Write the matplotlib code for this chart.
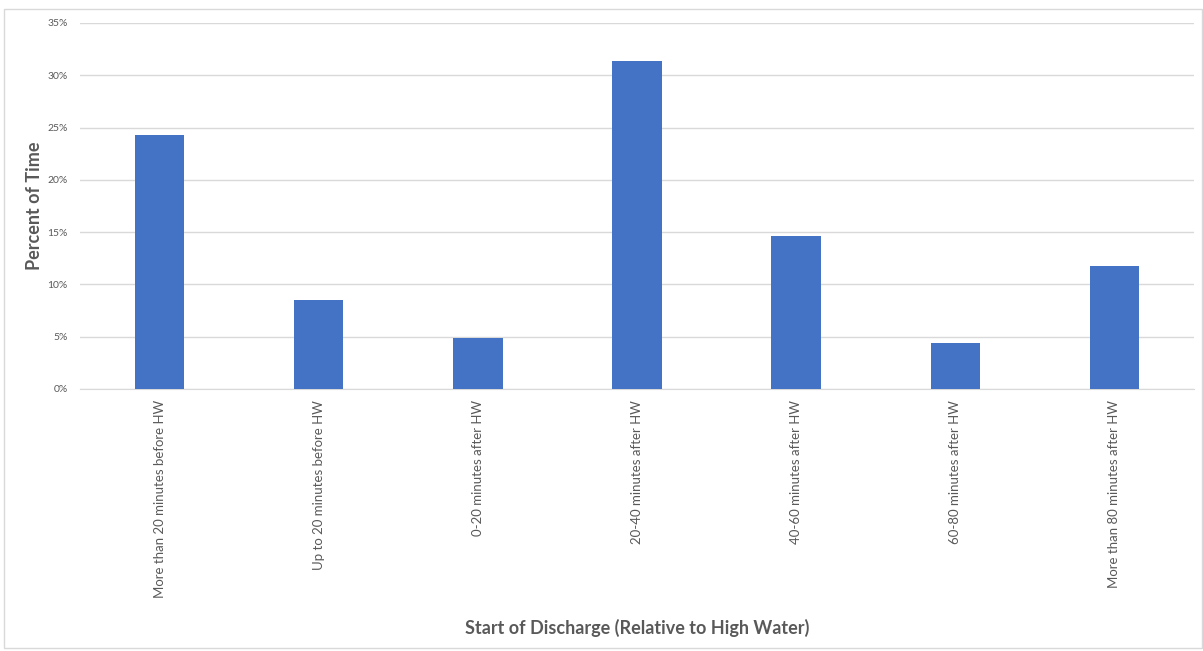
import matplotlib
matplotlib.use("Agg")
import matplotlib.pyplot as plt
from matplotlib.ticker import PercentFormatter
from matplotlib.patches import Rectangle

categories = [
    "More than 20 minutes before HW",
    "Up to 20 minutes before HW",
    "0-20 minutes after HW",
    "20-40 minutes after HW",
    "40-60 minutes after HW",
    "60-80 minutes after HW",
    "More than 80 minutes after HW",
]
values = [24.3, 8.5, 4.9, 31.4, 14.65, 4.4, 11.8]
yticks = [0, 5, 10, 15, 20, 25, 30, 35]

plt.rcParams['font.family'] = ['Lato', 'DejaVu Sans']
W, H = 1203, 651
fig = plt.figure(figsize=(W / 100, H / 100), dpi=100)
fig.patches.append(Rectangle((4 / W, 3 / H), 1198 / W, 1 - 12 / H, transform=fig.transFigure,
                             fill=False, edgecolor="#d9d9d9", linewidth=1))

ax = fig.add_axes([80 / W, 1 - 389 / H, (1194 - 80) / W, (389 - 23) / H])
x = list(range(len(categories)))
ax.bar(x, values, width=0.31, color="#4472c4", zorder=3)
ax.set_xlim(-0.5, len(categories) - 0.5)
ax.set_ylim(0, 35)
ax.set_yticks(yticks)
ax.yaxis.set_major_formatter(PercentFormatter(decimals=0))
ax.set_xticks(x)
ax.set_xticklabels(categories, rotation=90, fontsize=9.5, color="#595959")
ax.tick_params(axis='y', labelsize=7.5, labelcolor="#595959", length=0, pad=9)
ax.tick_params(axis='x', length=0, pad=8)
ax.grid(axis='y', color="#d9d9d9", linewidth=1, zorder=0)
for s in ["top", "right", "left"]:
    ax.spines[s].set_visible(False)
ax.spines["bottom"].set_color("#d9d9d9")
ax.set_ylabel("Percent of Time", fontsize=13, fontweight="bold", color="#595959")
ax.yaxis.set_label_coords(-0.033, 0.5)
fig.text(637 / W, 1 - 628 / H, "Start of Discharge (Relative to High Water)", ha="center", va="center",
         fontsize=13, fontweight="bold", color="#595959")

fig.savefig("out.png", dpi=100)
